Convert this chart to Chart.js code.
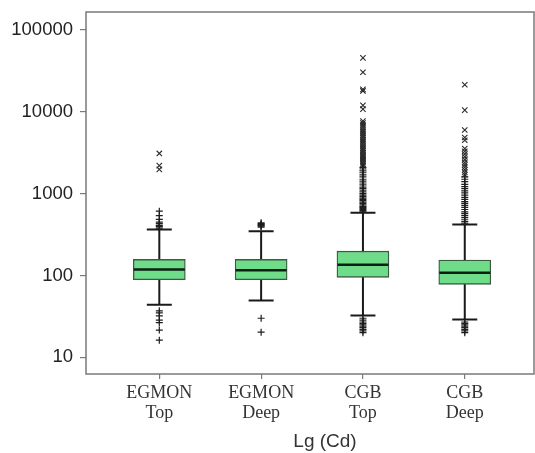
<!DOCTYPE html>
<html>
<head>
<meta charset="utf-8">
<script src="https://cdn.jsdelivr.net/npm/chart.js@4/dist/chart.umd.min.js"></script>
<style>
  html, body { margin: 0; padding: 0; background: #fff; }
  #wrap { width: 535px; height: 453px; }
</style>
</head>
<body>
<div id="wrap"><canvas id="myChart" width="535" height="453"></canvas></div>
<script>
// categories and box statistics
const categories = [['EGMON', 'Top'], ['EGMON', 'Deep'], ['CGB', 'Top'], ['CGB', 'Deep']];
const q1 = [89, 89, 95, 78];
const q3 = [157, 157, 198, 154];
const medians = [118, 116, 135, 108];
const whiskerLow = [44, 49.5, 32.4, 29];
const whiskerHigh = [365, 348, 584, 420];
const yTicks = [10, 100, 1000, 10000, 100000];
const axisTitle = 'Lg (Cd)';

// outliers: "+" = mild, "x" = extreme
const mildEgmonTop = [610, 540, 485, 450, 430, 410, 395, 380, 37, 35, 32, 28.5, 26.5, 21.5, 16.2];
const extremeEgmonTop = [3100, 2200, 1980];
const mildEgmonDeep = [440, 430, 420, 410, 400, 390, 30, 20.3];
const extremeEgmonDeep = [];
const mildCgbTop = [2100, 2000, 1900, 1800, 1700, 1600, 1500, 1420, 1350, 1280, 1200, 1150, 1100, 1050,
  1000, 960, 920, 880, 850, 820, 790, 760, 730, 700, 680, 660, 640, 620, 600,
  30, 28.5, 27, 26, 25, 24, 23, 22, 21, 20];
const extremeCgbTop = [45700, 30500, 18800, 18000, 12000, 10800, 7700, 7300, 6900, 6500, 6100, 5800,
  5500, 5200, 4900, 4600, 4400, 4200, 4000, 3800, 3600, 3450, 3300, 3150, 3000, 2900, 2800,
  2700, 2600, 2500, 2400, 2300, 2200];
const mildCgbDeep = [1600, 1500, 1400, 1300, 1220, 1150, 1080, 1020, 960, 900, 850, 800, 760, 720,
  680, 640, 600, 570, 540, 510, 480, 455, 435, 27, 26, 25, 24, 23, 22, 21, 20];
const extremeCgbDeep = [21400, 10500, 6000, 4850, 4500, 3550, 3300, 3050, 2820, 2600, 2400, 2250,
  2100, 1950, 1820, 1700];

const mildAll = [mildEgmonTop, mildEgmonDeep, mildCgbTop, mildCgbDeep];
const extremeAll = [extremeEgmonTop, extremeEgmonDeep, extremeCgbTop, extremeCgbDeep];

function toPoints(groups) {
    const pts = [];
    groups.forEach((vals, i) => {
        vals.forEach(v => pts.push({ x: i + 1, y: v }));
    });
    return pts;
}

// whiskers, caps, median lines, frame and axis title
const boxExtras = {
    id: 'boxExtras',
    beforeDatasetsDraw(chart) {
        const { ctx, scales: { x, y } } = chart;
        ctx.save();
        ctx.strokeStyle = '#1a1a1a';
        ctx.lineWidth = 2;
        categories.forEach((c, i) => {
            const px = x.getPixelForValue(i + 1);
            const capHalf = 12.5;
            ctx.beginPath();
            ctx.moveTo(px, y.getPixelForValue(whiskerLow[i]));
            ctx.lineTo(px, y.getPixelForValue(whiskerHigh[i]));
            [whiskerLow[i], whiskerHigh[i]].forEach(v => {
                const py = y.getPixelForValue(v);
                ctx.moveTo(px - capHalf, py);
                ctx.lineTo(px + capHalf, py);
            });
            ctx.stroke();
        });
        ctx.restore();
    },
    afterDatasetsDraw(chart) {
        const { ctx, scales: { x, y } } = chart;
        ctx.save();
        ctx.strokeStyle = '#0d1f12';
        ctx.lineWidth = 2.5;
        categories.forEach((c, i) => {
            const px = x.getPixelForValue(i + 1);
            const py = y.getPixelForValue(medians[i]);
            ctx.beginPath();
            ctx.moveTo(px - 25.5, py);
            ctx.lineTo(px + 25.5, py);
            ctx.stroke();
        });
        ctx.restore();
    },
    afterDraw(chart) {
        const { ctx, chartArea: a } = chart;
        ctx.save();
        ctx.strokeStyle = '#7a7a7a';
        ctx.lineWidth = 1.5;
        ctx.strokeRect(a.left, a.top, a.right - a.left, a.bottom - a.top);
        // axis title, sits a little right of the plot centre as in the original
        ctx.fillStyle = '#333';
        ctx.font = '19px "Liberation Sans", Arial, sans-serif';
        ctx.textAlign = 'center';
        ctx.textBaseline = 'middle';
        ctx.fillText(axisTitle, (a.left + a.right) / 2 + 15, 442);
        ctx.restore();
    }
};

const ctx = document.getElementById('myChart').getContext('2d');

new Chart(ctx, {
    type: 'bar',
    data: {
        datasets: [
            {
                label: 'box',
                data: categories.map((c, i) => ({ x: i + 1, y: [q1[i], q3[i]] })),
                backgroundColor: '#6fdc8a',
                borderColor: '#3a5a42',
                borderWidth: 1.3,
                borderSkipped: false,
                barThickness: 52,
                order: 2
            },
            {
                type: 'scatter',
                label: 'mild',
                data: toPoints(mildAll),
                pointStyle: 'cross',
                pointRadius: 3.5,
                borderColor: '#1e1e1e',
                borderWidth: 1.2,
                order: 1
            },
            {
                type: 'scatter',
                label: 'extreme',
                data: toPoints(extremeAll),
                pointStyle: 'crossRot',
                pointRadius: 3.8,
                borderColor: '#2a2a2a',
                borderWidth: 1.1,
                order: 1
            }
        ]
    },
    options: {
        responsive: false,
        animation: false,
        layout: { autoPadding: false, padding: { top: 12, right: 1, left: 0, bottom: 0 } },
        plugins: {
            legend: { display: false },
            tooltip: { enabled: false }
        },
        scales: {
            x: {
                type: 'linear',
                min: 0.28,
                max: 4.68,
                offset: false,
                afterBuildTicks: s => { s.ticks = categories.map((c, i) => ({ value: i + 1 })); },
                afterFit: s => { s.height = 79; s.paddingLeft = 0; s.paddingRight = 0; },
                grid: { drawOnChartArea: false, drawTicks: true, offset: false, tickLength: 5, color: '#7a7a7a', lineWidth: 1.2 },
                border: { display: false },
                ticks: {
                    autoSkip: false,
                    maxRotation: 0,
                    padding: 4,
                    color: '#333',
                    font: { family: '"Liberation Serif", "Times New Roman", serif', size: 18, lineHeight: 1.12 },
                    callback: v => categories[v - 1]
                }
            },
            y: {
                type: 'logarithmic',
                min: 6.25,
                max: 166000,
                afterBuildTicks: s => { s.ticks = yTicks.map(v => ({ value: v })); },
                afterFit: s => { s.width = 86; s.paddingTop = 0; s.paddingBottom = 0; },
                grid: { drawOnChartArea: false, drawTicks: true, tickLength: 6, color: '#7a7a7a', lineWidth: 1.2 },
                border: { display: false },
                ticks: {
                    padding: 7,
                    color: '#222',
                    font: { family: '"Liberation Sans", Arial, sans-serif', size: 18.5 },
                    callback: v => String(v)
                }
            }
        }
    },
    plugins: [boxExtras]
});
</script>
</body>
</html>
